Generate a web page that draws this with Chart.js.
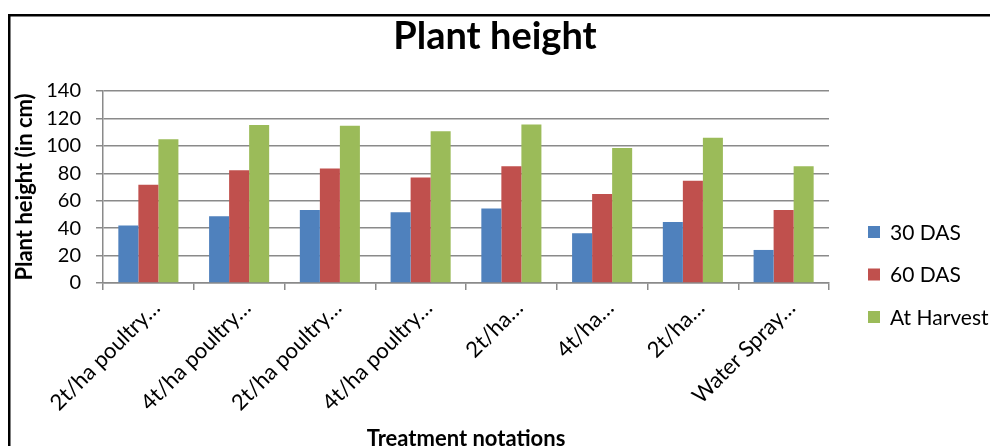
<!DOCTYPE html>
<html>
<head>
<meta charset="utf-8">
<script src="https://cdn.jsdelivr.net/npm/chart.js@4/dist/chart.umd.min.js"></script>
<style>
  html, body { margin: 0; padding: 0; background: #fff; }
  #wrap { width: 990px; height: 446px; }
  canvas { display: block; }
</style>
</head>
<body>
<div id="wrap"><canvas id="chart" width="990" height="446"></canvas></div>
<script>
// Treatment categories (labels as shown, truncated)
const treatments = ['2t/ha poultry…', '4t/ha poultry…', '2t/ha poultry…', '4t/ha poultry…',
                    '2t/ha…', '4t/ha…', '2t/ha…', 'Water Spray…'];
// Plant height in cm at each growth stage
const das30     = [42.0, 48.6, 53.2, 51.5, 54.4, 36.2, 44.5, 24.1];
const das60     = [71.7, 82.2, 83.4, 77.0, 85.1, 64.9, 74.6, 53.2];
const atHarvest = [104.8, 115.2, 114.7, 110.6, 115.5, 98.4, 106.0, 85.1];
const seriesNames = ['30 DAS', '60 DAS', 'At Harvest'];
// Value axis ticks
const yTicks = [0, 20, 40, 60, 80, 100, 120, 140];

const seriesColors = ['#4F81BD', '#C0504D', '#9BBB59'];
const FONT = 'Lato';

// Outer frame around the chart
const framePlugin = {
  id: 'frame',
  beforeDraw(chart) {
    const ctx = chart.ctx;
    ctx.save();
    ctx.fillStyle = '#fff';
    ctx.fillRect(0, 0, chart.width, chart.height);
    ctx.strokeStyle = '#000';
    ctx.lineWidth = 2.5;
    ctx.strokeRect(9.25, 15.25, 1200, 800);
    ctx.restore();
  }
};

// Legend listed on the right-hand side
const sideLegend = {
  id: 'sideLegend',
  afterDraw(chart) {
    const ctx = chart.ctx;
    ctx.save();
    ctx.font = '21px ' + FONT;
    ctx.textBaseline = 'middle';
    ctx.textAlign = 'left';
    chart.data.datasets.forEach((ds, i) => {
      const cy = 232 + i * 42.5;
      ctx.fillStyle = ds.backgroundColor;
      ctx.fillRect(868, cy - 6, 12, 12);
      ctx.fillStyle = '#000';
      ctx.fillText(ds.label, 890, cy + 1);
    });
    ctx.restore();
  }
};

function build() {
  Chart.defaults.font.family = FONT;
  Chart.defaults.color = '#000';
  const values = [das30, das60, atHarvest];
  new Chart(document.getElementById('chart'), {
    type: 'bar',
    data: {
      labels: treatments,
      datasets: seriesNames.map((name, i) => ({
        label: name,
        data: values[i],
        backgroundColor: seriesColors[i],
        borderWidth: 0,
        barPercentage: 1,
        categoryPercentage: 0.662
      }))
    },
    options: {
      responsive: false,
      animation: false,
      devicePixelRatio: 1,
      layout: { padding: 0 },
      plugins: {
        legend: { display: false },
        tooltip: { enabled: false },
        title: {
          display: true,
          text: 'Plant height',
          color: '#000',
          font: { size: 38, weight: 'bold', family: FONT },
          padding: { top: 14.2, bottom: 31.2 }
        }
      },
      scales: {
        x: {
          grid: { display: true, drawOnChartArea: false, drawTicks: true, tickLength: 7,
                  color: '#8a8a8a', lineWidth: 1.5, offset: true },
          border: { display: true, color: '#8a8a8a', width: 1.5 },
          ticks: { autoSkip: false, minRotation: 45, maxRotation: 45, padding: 5, labelOffset: 8,
                   font: { size: 22, family: FONT }, color: '#000' },
          title: { display: true, text: 'Treatment notations', color: '#000',
                   font: { size: 22, weight: 'bold', family: FONT },
                   padding: { top: 0, bottom: -6 } },
          afterFit(scale) { scale.height = 163; }
        },
        y: {
          min: yTicks[0],
          max: yTicks[yTicks.length - 1],
          afterBuildTicks(scale) { scale.ticks = yTicks.map(v => ({ value: v })); },
          grid: { color: '#8a8a8a', lineWidth: 1.5, tickLength: 7, drawTicks: true },
          border: { display: true, color: '#8a8a8a', width: 1.5 },
          ticks: { padding: 15, font: { size: 20, family: FONT }, color: '#000' },
          title: { display: true, text: 'Plant height (in cm)', color: '#000',
                   font: { size: 22, weight: 'bold', family: FONT },
                   padding: { top: 12, bottom: 0 } },
          afterFit(scale) { scale.width = 103; }
        },
        // empty right-hand band that holds the legend
        legendBand: {
          type: 'linear',
          position: 'right',
          display: true,
          grid: { display: false, drawTicks: false },
          border: { display: false },
          ticks: { display: false },
          afterFit(scale) { scale.width = 161; }
        }
      }
    },
    plugins: [framePlugin, sideLegend]
  });
}

if (document.fonts && document.fonts.load) {
  Promise.all([
    document.fonts.load('20px ' + FONT),
    document.fonts.load('bold 20px ' + FONT)
  ]).then(build, build);
} else {
  build();
}
</script>
</body>
</html>
